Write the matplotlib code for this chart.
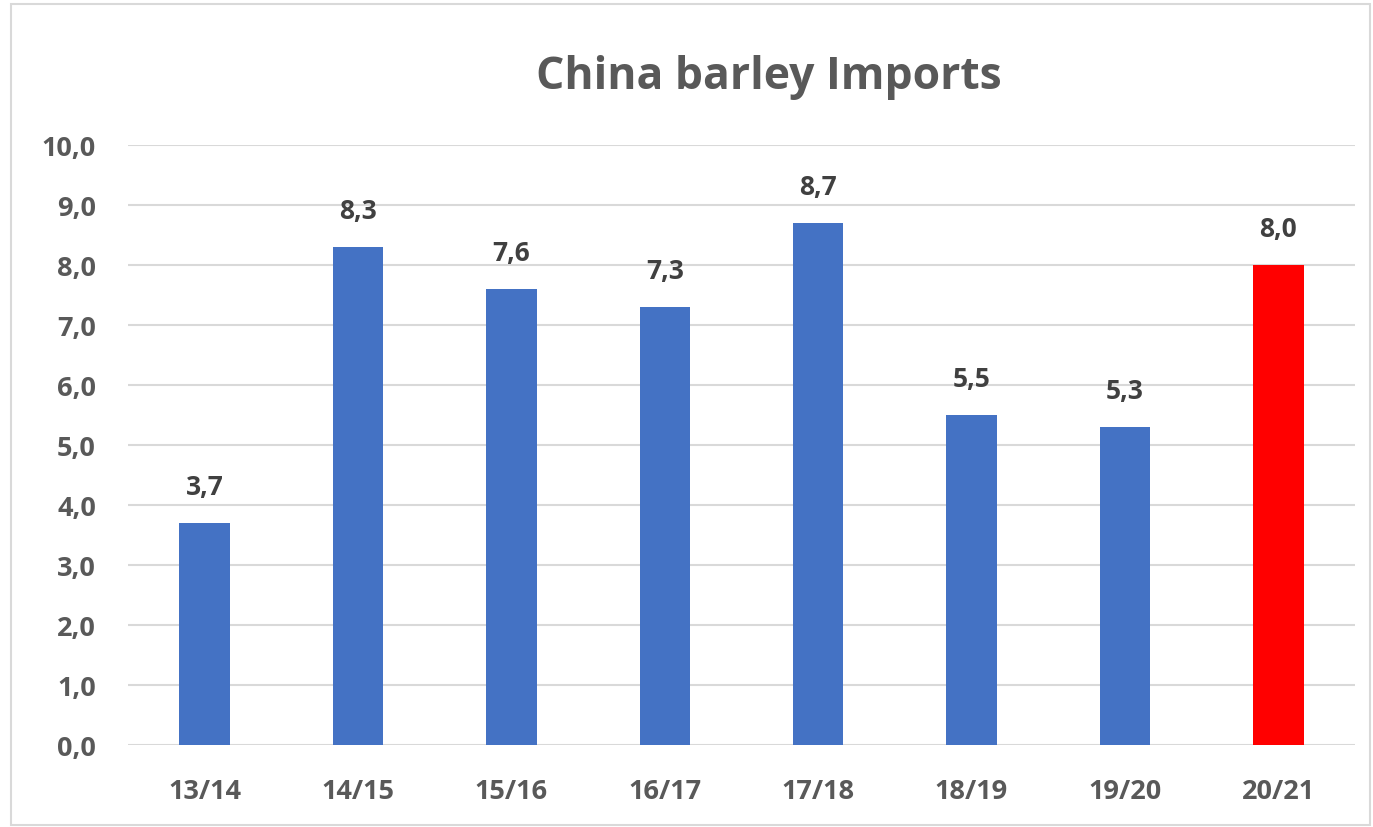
import matplotlib.pyplot as plt
from matplotlib.patches import Rectangle

plt.rcParams["font.family"] = ["Open Sans", "DejaVu Sans"]

seasons = ["13/14", "14/15", "15/16", "16/17", "17/18", "18/19", "19/20", "20/21"]
imports = [3.7, 8.3, 7.6, 7.3, 8.7, 5.5, 5.3, 8.0]
bar_colors = ["#4472C4"] * 7 + ["#FF0000"]

fig = plt.figure(figsize=(13.73, 8.28), dpi=100)
ax = fig.add_axes([128 / 1373, 1 - 746 / 828, (1355 - 128) / 1373, 600 / 828])

x = range(len(seasons))
bars = ax.bar(x, imports, width=0.33, color=bar_colors, zorder=3)

# value labels above bars, comma as decimal sep
for b, v in zip(bars, imports):
    ax.text(b.get_x() + b.get_width() / 2, v + 0.38, f"{v:.1f}".replace(".", ","),
            ha="center", va="bottom", fontsize=19, fontweight="bold", color="#404040")

ax.set_ylim(0, 10)
ax.set_xlim(-0.5, len(seasons) - 0.5)
ax.set_yticks(range(0, 11))
ax.set_yticklabels([f"{t:.1f}".replace(".", ",") for t in range(0, 11)])
ax.set_xticks(list(x))
ax.set_xticklabels(seasons)
ax.tick_params(axis="both", length=0, labelsize=19.5, labelcolor="#595959")
for lab in ax.get_xticklabels() + ax.get_yticklabels():
    lab.set_fontweight("bold")
ax.tick_params(axis="y", pad=23)
ax.tick_params(axis="x", pad=24)
ax.grid(axis="y", color="#D9D9D9", linewidth=1.5, zorder=0)
for s in ax.spines.values():
    s.set_visible(False)

fig.text(769 / 1373, 1 - 78 / 828, "China barley Imports", ha="center", va="center",
         fontsize=32, fontweight="bold", color="#595959")

# chart border
fig.patches.append(Rectangle((11 / 1373, 2 / 828), 1359 / 1373, 821 / 828,
                             transform=fig.transFigure, fill=False,
                             edgecolor="#D9D9D9", linewidth=1.5))

fig.savefig("out.png", dpi=100)
